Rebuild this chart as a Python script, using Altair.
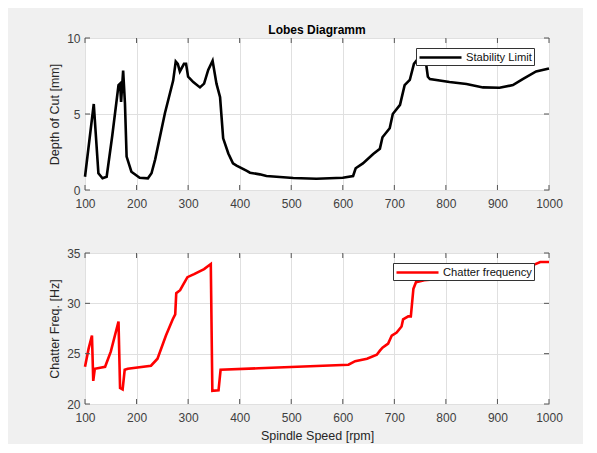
import altair as alt
import pandas as pd

# ---- data ----
x_ticks = [100, 200, 300, 400, 500, 600, 700, 800, 900, 1000]
depth_ticks = [0, 5, 10]
freq_ticks = [20, 25, 30, 35]

rpm_top = [100, 117, 126, 134, 142, 153, 165, 168, 170, 174, 177.5, 180.7, 190, 206,
           222, 229, 236, 255, 271, 276, 280, 284, 292, 296, 300, 310, 323, 331,
           339, 347.5, 355, 362, 368, 378, 387, 394, 413, 420, 439, 452, 504, 549,
           600, 620, 625, 639, 659, 672, 677, 691, 697, 711, 720, 730, 738, 745,
           755, 762, 765, 769, 807, 840, 872, 904, 930, 949, 975, 1000]
depth = [0.87, 5.66, 1.1, 0.77, 0.87, 3.6, 6.9, 7.0, 5.8, 7.85, 5.7, 2.2, 1.2, 0.81,
         0.77, 1.1, 2.0, 5.05, 7.2, 8.45, 8.3, 7.8, 8.3, 8.3, 7.45, 7.1, 6.75, 7.0,
         7.9, 8.5, 7.0, 6.1, 3.4, 2.4, 1.75, 1.6, 1.27, 1.14, 1.03, 0.92, 0.79, 0.74,
         0.81, 0.92, 1.43, 1.75, 2.37, 2.72, 3.47, 4.06, 5.0, 5.6, 6.9, 7.24, 8.3, 8.6,
         8.5, 8.2, 7.45, 7.3, 7.1, 6.97, 6.75, 6.73, 6.9, 7.3, 7.8, 8.0]

rpm_bot = [100, 107, 113.5, 116, 119, 139, 150, 165, 168, 173, 177, 183, 228, 240.6,
           257, 270, 275, 277, 284.5, 291, 298.7, 311.6, 331, 344, 347, 359, 363,
           437, 611, 624, 647, 666, 672, 677, 688, 695, 704.5, 714, 717, 727, 732,
           737, 742, 758, 870, 960, 983, 1000]
freq = [23.7, 25.5, 26.8, 22.3, 23.5, 23.7, 25.2, 28.2, 21.6, 21.45, 23.4, 23.5, 23.8, 24.5,
        26.8, 28.4, 28.9, 31.0, 31.3, 31.9, 32.6, 32.9, 33.4, 33.9, 21.3, 21.35, 23.4,
        23.55, 23.9, 24.26, 24.5, 24.9, 25.3, 25.6, 26.0, 26.8, 27.1, 27.7, 28.4, 28.7, 28.7,
        31.45, 32.1, 32.3, 32.8, 33.6, 34.1, 34.1]

top_df = pd.DataFrame({"rpm": rpm_top, "depth": depth, "s1": "Stability Limit"})
bot_df = pd.DataFrame({"rpm": rpm_bot, "freq": freq, "s2": "Chatter frequency"})
xt_df = pd.DataFrame({"rpm": x_ticks})
dt_df = pd.DataFrame({"depth": depth_ticks})
ft_df = pd.DataFrame({"freq": freq_ticks})

FONT = "Liberation Sans"
W = 464
H1 = 152
H2 = 151
TICK = 5
TC = "#555555"

def ax(values, title=None, **kw):
    return alt.Axis(values=values, title=title, grid=True, gridColor="#e0e0e0",
                    domain=False, ticks=False, labelFont=FONT, labelFontSize=12,
                    labelColor="#404040", titleFont=FONT, titleFontSize=12.5,
                    titleFontWeight="normal", titleColor="#262626",
                    labelFlush=False, format="d", **kw)

def leg(x, y):
    return alt.Legend(orient="none", legendX=x, legendY=y, title=None,
                      symbolType="M-1,0H6", symbolSize=144, symbolStrokeWidth=2.6,
                      labelFont=FONT, labelFontSize=11.2, labelColor="#111",
                      strokeColor="#333", fillColor="white", padding=2,
                      labelOffset=33, cornerRadius=0)

xscale = alt.Scale(domain=[100, 1000], nice=False, zero=False)
dscale = alt.Scale(domain=[0, 10], nice=False, zero=False)
fscale = alt.Scale(domain=[20, 35], nice=False, zero=False)

def panel(df, yfield, yscale, yticks, ytitle, xtitle, color, legx, h, ydf):
    x_enc = alt.X("rpm:Q", scale=xscale,
                  axis=ax(x_ticks, xtitle, labelPadding=8, titlePadding=6))
    y_enc = alt.Y(f"{yfield}:Q", scale=yscale,
                  axis=ax(yticks, ytitle, labelPadding=5, titlePadding=5))
    sfield = "s1" if yfield == "depth" else "s2"
    line = alt.Chart(df).mark_line(strokeWidth=2.6).encode(
        x=x_enc, y=y_enc,
        color=alt.Color(f"{sfield}:N", scale=alt.Scale(range=[color]), legend=leg(legx, 10)),
    )
    xa = alt.Chart(xt_df).mark_rule(color=TC, strokeWidth=1).encode(
        x=x_enc, y=alt.value(0), y2=alt.value(TICK))
    xb = alt.Chart(xt_df).mark_rule(color=TC, strokeWidth=1).encode(
        x=x_enc, y=alt.value(h - TICK), y2=alt.value(h))
    yl = alt.Chart(ydf).mark_rule(color=TC, strokeWidth=1).encode(
        y=y_enc, x=alt.value(0), x2=alt.value(TICK))
    yr = alt.Chart(ydf).mark_rule(color=TC, strokeWidth=1).encode(
        y=y_enc, x=alt.value(W - TICK), x2=alt.value(W))
    return alt.layer(line, xa, xb, yl, yr)

top = panel(top_df, "depth", dscale, depth_ticks, "Depth of Cut [mm]", None,
            "black", 331, H1, dt_df).properties(
    width=W, height=H1,
    title=alt.TitleParams("Lobes Diagramm", font=FONT, fontSize=12,
                          fontWeight="bold", color="black", offset=-5,
                          frame="group"))

bot = panel(bot_df, "freq", fscale, freq_ticks, "Chatter Freq. [Hz]",
            "Spindle Speed [rpm]", "#ff0000", 308, H2, ft_df).properties(
    width=W, height=H2)

chart = alt.vconcat(top, bot, spacing=36).resolve_scale(
    color="independent", x="independent", y="independent"
).resolve_legend(color="independent").properties(
    background="#f0f0f0",
    padding={"left": 40, "top": 15, "right": 20, "bottom": 2},
).configure_view(fill="white", stroke="#7a7a7a", strokeWidth=1)

chart.save("out.html", embed_options={"renderer": "svg", "actions": False})
